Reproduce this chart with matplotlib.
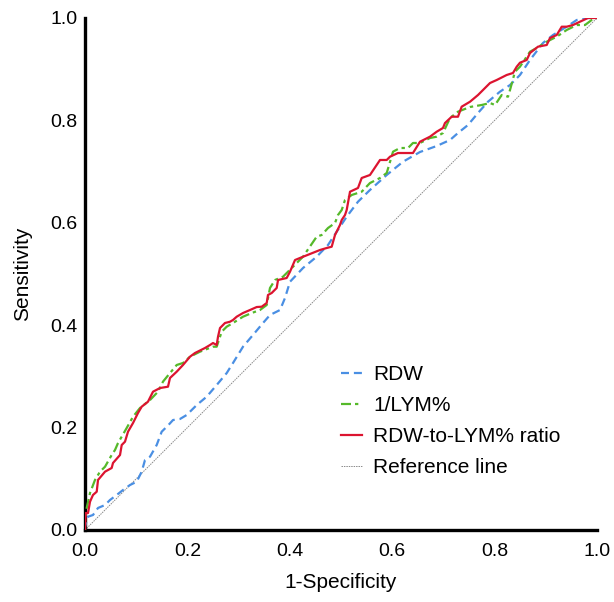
import matplotlib
matplotlib.use("Agg")
import matplotlib.pyplot as plt

plt.rcParams['font.family'] = ['Liberation Sans', 'DejaVu Sans']

# RDW curve
rdw_fpr = [0, 0, 0.0059, 0.0156, 0.0254, 0.0391, 0.0488, 0.0619, 0.0742, 0.0879, 0.1010, 0.1107,
           0.1172, 0.127, 0.1400, 0.1498, 0.1621, 0.1719, 0.1855, 0.1986, 0.2182, 0.2377, 0.2572,
           0.2768, 0.2891, 0.3086, 0.3281, 0.3477, 0.3613, 0.3809, 0.3906, 0.4004, 0.4258, 0.4525,
           0.4746, 0.4916, 0.5111, 0.5332, 0.5566, 0.5893, 0.6211, 0.6543, 0.6869, 0.7129, 0.7285,
           0.748, 0.7676, 0.7871, 0.8105, 0.8301, 0.8496, 0.8691, 0.8945, 0.9141, 0.9408, 0.9604,
           0.9799, 1.0]
rdw_tpr = [0, 0.0064, 0.0260, 0.0293, 0.043, 0.0488, 0.0586, 0.0684, 0.0781, 0.0879, 0.0943, 0.1139,
           0.1367, 0.1432, 0.166, 0.1920, 0.2041, 0.2148, 0.2168, 0.2246, 0.2441, 0.2604, 0.2832,
           0.3066, 0.3262, 0.3580, 0.3809, 0.4043, 0.4199, 0.4297, 0.4531, 0.4849, 0.5117, 0.5338,
           0.5566, 0.5826, 0.6119, 0.6412, 0.6641, 0.6934, 0.7193, 0.7383, 0.75, 0.7617, 0.7754,
           0.791, 0.8145, 0.8365, 0.8561, 0.8691, 0.8887, 0.918, 0.9512, 0.9668, 0.983, 0.9961,
           1.0, 1.0]

# 1/LYM% curve
lym_fpr = [0, 0, 0.0033, 0.0098, 0.0195, 0.0293, 0.0391, 0.0521, 0.0586, 0.0645, 0.0814, 0.0938,
           0.1074, 0.127, 0.1426, 0.1523, 0.166, 0.1791, 0.1914, 0.2051, 0.2246, 0.25, 0.2572,
           0.267, 0.2768, 0.2891, 0.3086, 0.3256, 0.3418, 0.3549, 0.3613, 0.3711, 0.3867, 0.4063,
           0.4258, 0.4525, 0.4623, 0.4746, 0.4883, 0.4941, 0.5014, 0.5078, 0.5209, 0.5404, 0.5566,
           0.5762, 0.5893, 0.6016, 0.6152, 0.6309, 0.6406, 0.6543, 0.6738, 0.6869, 0.6992, 0.7129,
           0.7285, 0.752, 0.7748, 0.791, 0.8008, 0.8139, 0.8262, 0.8301, 0.8398, 0.8496, 0.8691,
           0.8822, 0.9018, 0.9213, 0.9408, 0.9604, 0.9766, 0.9896, 1.0]
lym_tpr = [0, 0.0195, 0.043, 0.0723, 0.0977, 0.1139, 0.1236, 0.1465, 0.1563, 0.1699, 0.1992, 0.2213,
           0.2383, 0.2539, 0.2702, 0.2897, 0.3066, 0.3223, 0.3262, 0.3385, 0.3483, 0.3580, 0.3580,
           0.3873, 0.3971, 0.4043, 0.4166, 0.4238, 0.4297, 0.4395, 0.4727, 0.4883, 0.4947, 0.5143,
           0.5338, 0.5729, 0.5762, 0.5898, 0.5996, 0.6152, 0.625, 0.6445, 0.6543, 0.6607, 0.6777,
           0.6875, 0.6973, 0.7389, 0.7461, 0.7461, 0.7559, 0.7559, 0.7656, 0.7682, 0.7754, 0.8047,
           0.817, 0.8262, 0.8301, 0.8340, 0.8301, 0.8496, 0.8463, 0.8594, 0.8951, 0.9049, 0.9342,
           0.9414, 0.9537, 0.9635, 0.9766, 0.9863, 0.9863, 0.9961, 1.0]

# RDW-to-LYM% ratio curve
ratio_fpr = [0, 0.0014, 0.0059, 0.0098, 0.0156, 0.0229, 0.0254, 0.0391, 0.0521, 0.0547, 0.0684,
             0.0717, 0.0781, 0.084, 0.0938, 0.1035, 0.1107, 0.123, 0.1328, 0.1465, 0.1621, 0.166,
             0.1791, 0.1914, 0.2051, 0.2148, 0.2344, 0.2441, 0.25, 0.2572, 0.2598, 0.2637, 0.2734,
             0.2832, 0.2891, 0.2963, 0.3086, 0.3223, 0.3354, 0.3451, 0.3549, 0.3574, 0.3646, 0.3744,
             0.377, 0.3939, 0.4004, 0.4102, 0.4199, 0.459, 0.4721, 0.4818, 0.4883, 0.498, 0.5014,
             0.5078, 0.5111, 0.5176, 0.5332, 0.5404, 0.5566, 0.5762, 0.5893, 0.5957, 0.6113, 0.6406,
             0.6543, 0.6738, 0.6869, 0.6992, 0.7031, 0.7162, 0.7285, 0.7357, 0.752, 0.7676, 0.791,
             0.8041, 0.8236, 0.8359, 0.8432, 0.8496, 0.8627, 0.8691, 0.8848, 0.9018, 0.9082, 0.9213,
             0.9311, 0.9408, 0.9531, 0.9668, 0.9824, 1.0]
ratio_tpr = [0, 0.0332, 0.0332, 0.0553, 0.0684, 0.0748, 0.0977, 0.1139, 0.1211, 0.1309, 0.1465,
             0.166, 0.1725, 0.192, 0.209, 0.2285, 0.2408, 0.2506, 0.2701, 0.2773, 0.2799, 0.2969,
             0.3092, 0.3223, 0.3385, 0.3457, 0.3555, 0.3613, 0.3652, 0.3613, 0.3775, 0.3945, 0.4043,
             0.4068, 0.4102, 0.4166, 0.4238, 0.4297, 0.4355, 0.4361, 0.4434, 0.459, 0.4629, 0.4727,
             0.4883, 0.4922, 0.5045, 0.5273, 0.5313, 0.5469, 0.5508, 0.5533, 0.5762, 0.5957, 0.6055,
             0.6152, 0.6250, 0.6607, 0.668, 0.6875, 0.6934, 0.7227, 0.7227, 0.7291, 0.7363, 0.7363,
             0.7584, 0.7682, 0.7779, 0.7852, 0.7949, 0.8072, 0.8072, 0.8268, 0.8365, 0.8496, 0.873,
             0.8789, 0.8887, 0.8926, 0.9049, 0.9127, 0.918, 0.9316, 0.944, 0.9473, 0.9609, 0.9668,
             0.983, 0.983, 0.9863, 0.9928, 1.0, 1.0]

ref_x = [0, 1]
ref_y = [0, 1]

labels = ['RDW', '1/LYM%', 'RDW-to-LYM% ratio', 'Reference line']
ticks = [0.0, 0.2, 0.4, 0.6, 0.8, 1.0]
tick_labels = ['0.0', '0.2', '0.4', '0.6', '0.8', '1.0']

fig = plt.figure(figsize=(6.14, 6.02), dpi=100)
ax = fig.add_axes([85/614, 72/602, 512/614, 512/602])

ax.plot(rdw_fpr, rdw_tpr, color='#4a8fe3', lw=1.6, dashes=(3.6, 2.2), label=labels[0], zorder=3)
ax.plot(lym_fpr, lym_tpr, color='#55b92a', lw=1.6, dashes=(4.5, 1.8, 1.5, 1.8), label=labels[1], zorder=3)
ax.plot(ratio_fpr, ratio_tpr, color='#dc1430', lw=1.6, label=labels[2], zorder=4)
ax.plot(ref_x, ref_y, color='#8a8a8a', lw=0.7, dashes=(1.5, 1), label=labels[3], zorder=2)

ax.set_xlim(0, 1)
ax.set_ylim(0, 1)
ax.set_xticks(ticks)
ax.set_xticklabels(tick_labels)
ax.set_yticks(ticks)
ax.set_yticklabels(tick_labels)
ax.tick_params(length=0, labelsize=14)
ax.tick_params(axis='x', pad=9)
ax.tick_params(axis='y', pad=5.5)
for s in ['top', 'right']:
    ax.spines[s].set_visible(False)
for s in ['left', 'bottom']:
    ax.spines[s].set_linewidth(2.4)
    ax.spines[s].set_color('black')

ax.set_xlabel('1-Specificity', fontsize=15, labelpad=10)
ax.set_ylabel('Sensitivity', fontsize=15, labelpad=13)

leg = ax.legend(loc='upper left', bbox_to_anchor=(0.5, 0.322), frameon=False, fontsize=15,
                handlelength=1.0, handletextpad=0.55, labelspacing=0.58, borderpad=0, borderaxespad=0)

fig.savefig('out.png', dpi=100)
